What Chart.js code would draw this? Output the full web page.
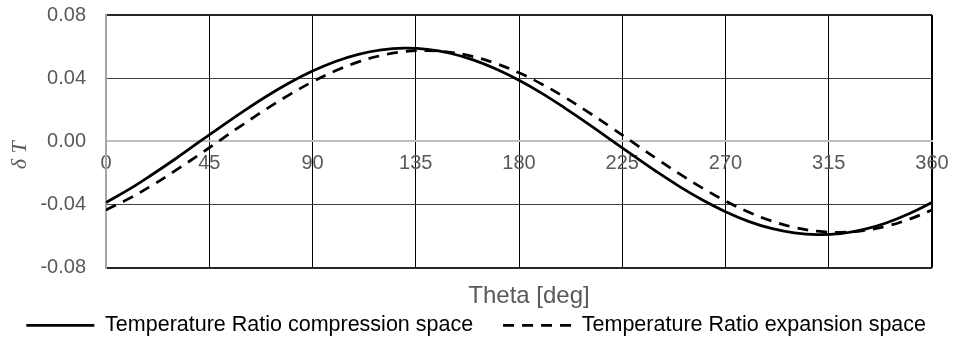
<!DOCTYPE html>
<html>
<head>
<meta charset="utf-8">
<script src="https://cdn.jsdelivr.net/npm/chart.js@4/dist/chart.umd.min.js"></script>
<style>
  body { margin: 0; background: #fff; }
  canvas { display: block; }
</style>
</head>
<body>
<canvas id="ratiochart" width="953" height="346"></canvas>
<script>
// crank angle in degrees
const theta = [0, 10, 20, 30, 40, 50, 60, 70, 80, 90, 100, 110, 120, 130, 140, 150, 160, 170, 180,
    190, 200, 210, 220, 230, 240, 250, 260, 270, 280, 290, 300, 310, 320, 330, 340, 350, 360];

// temperature ratio deviation, compression space
const compression = [-0.0387, -0.0304, -0.0211, -0.0113, -0.0010, 0.0092, 0.0192, 0.0286, 0.0371, 0.0445,
    0.0506, 0.0551, 0.0579, 0.0590, 0.0583, 0.0558, 0.0516, 0.0458, 0.0387, 0.0304, 0.0211, 0.0113,
    0.0010, -0.0092, -0.0192, -0.0286, -0.0371, -0.0445, -0.0506, -0.0551, -0.0579, -0.0590, -0.0583,
    -0.0558, -0.0516, -0.0458, -0.0387];

// temperature ratio deviation, expansion space
const expansion = [-0.0434, -0.0362, -0.0279, -0.0187, -0.0090, 0.0010, 0.0110, 0.0206, 0.0296, 0.0377,
    0.0447, 0.0503, 0.0544, 0.0568, 0.0575, 0.0564, 0.0537, 0.0493, 0.0434, 0.0362, 0.0279, 0.0187,
    0.0090, -0.0010, -0.0110, -0.0206, -0.0296, -0.0377, -0.0447, -0.0503, -0.0544, -0.0568, -0.0575,
    -0.0564, -0.0537, -0.0493, -0.0434];

const seriesNames = ['Temperature Ratio compression space', 'Temperature Ratio expansion space'];
const xTicks = [0, 45, 90, 135, 180, 225, 270, 315, 360];
const yTicks = [-0.08, -0.04, 0, 0.04, 0.08];

const grey = '#595959';
const sans = "'Liberation Sans', Arial, sans-serif";
const lineWidth = 2.75;
const dash = [11, 8];

const points = ys => theta.map((t, i) => ({ x: t, y: ys[i] }));

new Chart('ratiochart', {
    type: 'line',
    data: {
        datasets: [{
            label: seriesNames[0],
            data: points(compression),
            borderColor: '#000',
            borderWidth: lineWidth,
            pointRadius: 0,
            tension: 0.4
        }, {
            label: seriesNames[1],
            data: points(expansion),
            borderColor: '#000',
            borderWidth: lineWidth,
            borderDash: dash,
            pointRadius: 0,
            tension: 0.4
        }]
    },
    options: {
        responsive: false,
        animation: false,
        layout: { padding: { left: 0, right: 21, top: 15, bottom: 0 } },
        scales: {
            x: {
                type: 'linear',
                position: { y: 0 },
                min: 0,
                max: 360,
                afterBuildTicks: s => { s.ticks = xTicks.map(v => ({ value: v })); },
                ticks: {
                    color: grey,
                    font: { family: sans, size: 20 },
                    padding: 0,
                    maxRotation: 0
                },
                grid: {
                    tickLength: 10,
                    tickColor: 'rgba(0,0,0,0)',
                    color: c => c.tick && c.tick.value === 0 ? '#a6a6a6' : '#000',
                    lineWidth: c => c.tick && c.tick.value === 360 ? 2 : 1
                },
                border: { color: '#bfbfbf', width: 2 }
            },
            y: {
                min: -0.08,
                max: 0.08,
                afterBuildTicks: s => { s.ticks = yTicks.map(v => ({ value: v })); },
                afterFit: s => { s.width = 106; },
                ticks: {
                    color: grey,
                    font: { family: sans, size: 20 },
                    padding: 2,
                    callback: v => Math.abs(v) < 1e-9 ? '0.00' : v.toFixed(2)
                },
                grid: {
                    tickLength: 18,
                    tickColor: 'rgba(0,0,0,0)',
                    color: c => {
                        const v = Math.round(c.tick.value * 100);
                        if (v === 0) return '#bfbfbf';
                        if (Math.abs(v) === 8) return '#262626';
                        return '#404040';
                    },
                    lineWidth: c => {
                        const v = Math.round(c.tick.value * 100);
                        return v === 0 || Math.abs(v) === 8 ? 2 : 1;
                    }
                },
                border: { color: '#a6a6a6', width: 2 },
                title: {
                    display: true,
                    text: 'δ T     ',
                    color: grey,
                    font: { family: "'Liberation Serif', serif", size: 22, style: 'italic' },
                    padding: { top: 7, bottom: 0 }
                }
            }
        },
        plugins: {
            title: {
                display: true,
                position: 'bottom',
                fullSize: false,
                weight: 500,
                text: '   Theta [deg]',
                color: grey,
                font: { family: sans, size: 24, weight: 'normal', lineHeight: 1 },
                padding: { top: 16.7, bottom: 0 }
            },
            legend: {
                position: 'bottom',
                align: 'end',
                weight: 1000,
                labels: {
                    color: '#000',
                    font: { family: sans, size: 21.5 },
                    usePointStyle: true,
                    pointStyle: 'line',
                    pointStyleWidth: 68,
                    padding: 6,
                    generateLabels: chart => {
                        const items = Chart.defaults.plugins.legend.labels.generateLabels(chart);
                        items.forEach((item, i) => {
                            const ds = chart.data.datasets[i];
                            item.lineWidth = ds.borderWidth;
                            item.lineDash = ds.borderDash || [];
                        });
                        // wider gap after the first entry
                        items[0].text += '    ';
                        return items;
                    }
                }
            },
            tooltip: { enabled: false }
        }
    }
});
</script>
</body>
</html>
